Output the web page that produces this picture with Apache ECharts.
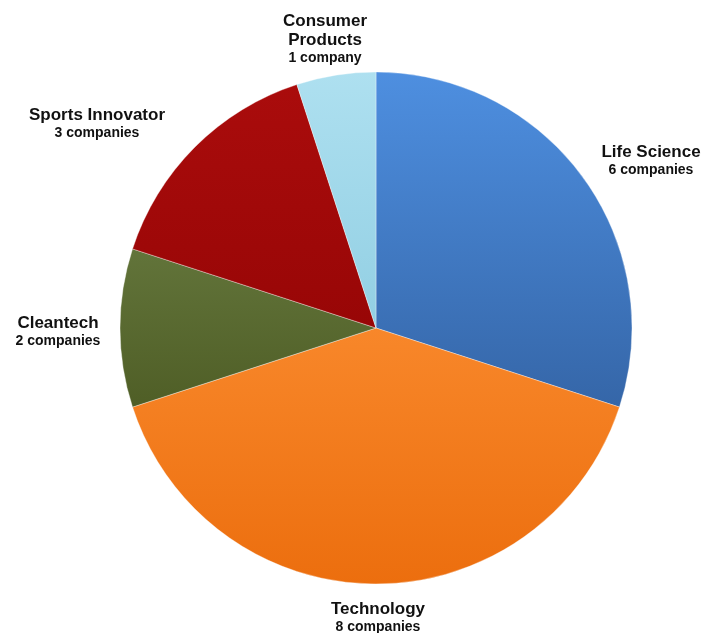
<!DOCTYPE html>
<html><head><meta charset="utf-8">
<script src="https://cdn.jsdelivr.net/npm/echarts@6/dist/echarts.min.js"></script>
<style>html,body{margin:0;padding:0;background:#fff}#c{width:706px;height:633px}</style>
</head><body><div id="c"></div>
<script>
const categories = ['Life Science', 'Technology', 'Cleantech', 'Sports Innovator', 'Consumer Products'];
const companies = [6, 8, 2, 3, 1];
const labelNames = ['Life Science', 'Technology', 'Cleantech', 'Sports Innovator', 'Consumer\nProducts'];
const colorsTop = ['#4e8fe0', '#f8872a', '#62743a', '#aa0c0c', '#aee0f0'];
const colorsBot = ['#3566a8', '#ec6e0e', '#4f5e26', '#980606', '#92cfe3'];
const labelPos = [[651, 161], [378, 618], [58, 332], [97, 124], [325, 39]];

const chart = echarts.init(document.getElementById('c'), null, {renderer: 'canvas'});
chart.setOption({
  animation: false,
  series: [{
    type: 'pie',
    center: [376, 328],
    radius: [0, 256],
    startAngle: 90,
    clockwise: true,
    data: categories.map((c, i) => ({
      name: c,
      value: companies[i],
      itemStyle: {
        color: new echarts.graphic.LinearGradient(0, 0, 0, 1, [
          {offset: 0, color: colorsTop[i]}, {offset: 1, color: colorsBot[i]}
        ]),
        borderColor: 'rgba(255,255,255,0.35)',
        borderWidth: 1
      }
    })),
    labelLine: {show: false},
    label: {
      show: true,
      position: 'outside',
      overflow: 'none',
      width: 200,
      formatter: p => '{n|' + labelNames[p.dataIndex].split('\n').join('}\n{n|') + '}\n{c|' + p.value + (p.value === 1 ? ' company' : ' companies') + '}',
      rich: {
        n: {fontFamily: 'Liberation Sans, Arial, sans-serif', fontWeight: 'bold', fontSize: 17, lineHeight: 19, color: '#111', align: 'center'},
        c: {fontFamily: 'Liberation Sans, Arial, sans-serif', fontWeight: 'bold', fontSize: 14, lineHeight: 17, color: '#111', align: 'center'}
      }
    },
    labelLayout: p => ({x: labelPos[p.dataIndex][0], y: labelPos[p.dataIndex][1], align: 'center', verticalAlign: 'middle'})
  }]
});
</script></body></html>
